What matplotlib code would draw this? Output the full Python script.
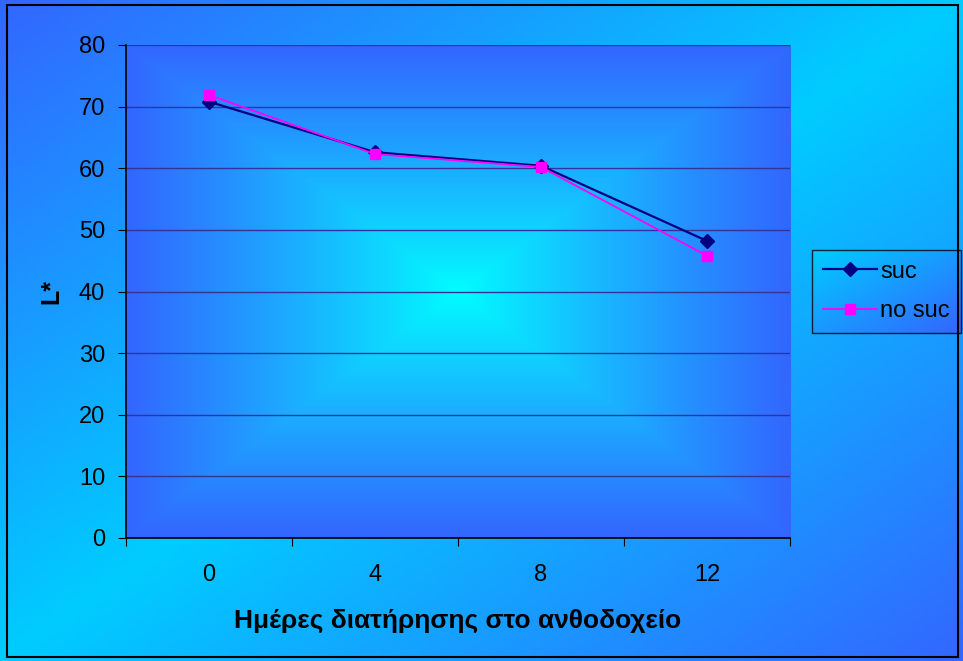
import numpy as np
import matplotlib.pyplot as plt
import matplotlib.patches as mpatches
from matplotlib.colors import to_rgb

plt.rcParams['font.family'] = ['Liberation Sans', 'DejaVu Sans']

# data
days = ['0', '4', '8', '12']
suc = [70.8, 62.6, 60.4, 48.2]
no_suc = [71.9, 62.3, 60.2, 45.8]

W, H = 963, 661
fig = plt.figure(figsize=(W / 100, H / 100), dpi=100)

blue = np.array(to_rgb('#3366ff'))
cyan = np.array(to_rgb('#00ffff'))
cyan2 = np.array(to_rgb('#00ccff'))

# figure background: diagonal gradient blue - cyan - blue
bg = fig.add_axes([0, 0, 1, 1], zorder=-10)
u, v = np.meshgrid(np.linspace(0, 1, 300), np.linspace(0, 1, 200))
t = (u + v) / 2
k = 1 - np.abs(2 * t - 1)
img = blue[None, None, :] * (1 - k[..., None]) + cyan2[None, None, :] * k[..., None]
bg.imshow(img, extent=[0, 1, 0, 1], aspect='auto', origin='upper')
bg.axis('off')
fig.patches.append(mpatches.Rectangle((7 / W, 4 / H), 951 / W, 652 / H, transform=fig.transFigure,
                                      fill=False, edgecolor='black', linewidth=1.5))

ax = fig.add_axes([126 / W, 1 - 538 / H, (790 - 126) / W, (538 - 45) / H])

# plot area: rectangular "from centre" gradient
u, v = np.meshgrid(np.linspace(-1, 1, 400), np.linspace(-1, 1, 300))
d = np.maximum(np.abs(u), np.abs(v))
d = np.clip(d, 0, 1) ** 0.9
img2 = cyan[None, None, :] * (1 - d[..., None]) + blue[None, None, :] * d[..., None]
ax.imshow(img2, extent=[0, 1, 0, 1], transform=ax.transAxes, aspect='auto', zorder=0)

x = np.arange(len(days))
ax.plot(x, suc, color='#000080', linewidth=1.6, marker='D', markersize=7, label='suc', zorder=3)
ax.plot(x, no_suc, color='#ff00ff', linewidth=1.3, marker='s', markersize=7, label='no suc', zorder=4)

ax.set_xlim(-0.5, len(days) - 0.5)
ax.set_ylim(0, 80)
ax.set_yticks(range(0, 81, 10))
ax.set_xticks(np.arange(-0.5, len(days), 1))
ax.set_xticklabels([])
ax.set_xticks(x, minor=True)
ax.set_xticklabels(days, minor=True)
ax.tick_params(axis='x', which='major', direction='out', length=6, color='black')
ax.tick_params(axis='x', which='minor', length=0, pad=19, labelsize=17)
ax.tick_params(axis='y', direction='out', length=6, labelsize=17, pad=9)
ax.yaxis.grid(True, color='#333399', linewidth=1)
for gl in ax.get_ygridlines():
    gl.set_zorder(1)
ax.spines['top'].set_visible(False)
ax.spines['right'].set_visible(False)
ax.spines['left'].set_linewidth(1.2)
ax.spines['bottom'].set_linewidth(1.2)

ax.set_xlabel('Ημέρες διατήρησης στο ανθοδοχείο', fontsize=19, fontweight='bold', labelpad=16)
ax.set_ylabel('L*', fontsize=18, fontweight='bold', labelpad=11)

leg = fig.legend(loc='upper left', bbox_to_anchor=(812 / W, 1 - 250 / H), borderaxespad=0,
                 fontsize=17, frameon=True, fancybox=False, edgecolor='black',
                 handlelength=2.3, handletextpad=0.15, labelspacing=0.75, borderpad=0.45)
leg.get_frame().set_facecolor('none')
leg.get_frame().set_linewidth(1)

fig.canvas.draw()
bb = leg.get_window_extent().transformed(fig.transFigure.inverted())
lax = fig.add_axes([bb.x0, bb.y0, bb.width, bb.height], zorder=1)
u, v = np.meshgrid(np.linspace(0, 1, 100), np.linspace(0, 1, 60))
t = np.clip((u + (1 - v)) / 2, 0, 1)
img3 = cyan2[None, None, :] * (1 - t[..., None]) + blue[None, None, :] * t[..., None]
lax.imshow(img3[::-1], extent=[0, 1, 0, 1], aspect='auto')
lax.axis('off')
leg.set_zorder(5)

fig.savefig('out.png', dpi=100)
